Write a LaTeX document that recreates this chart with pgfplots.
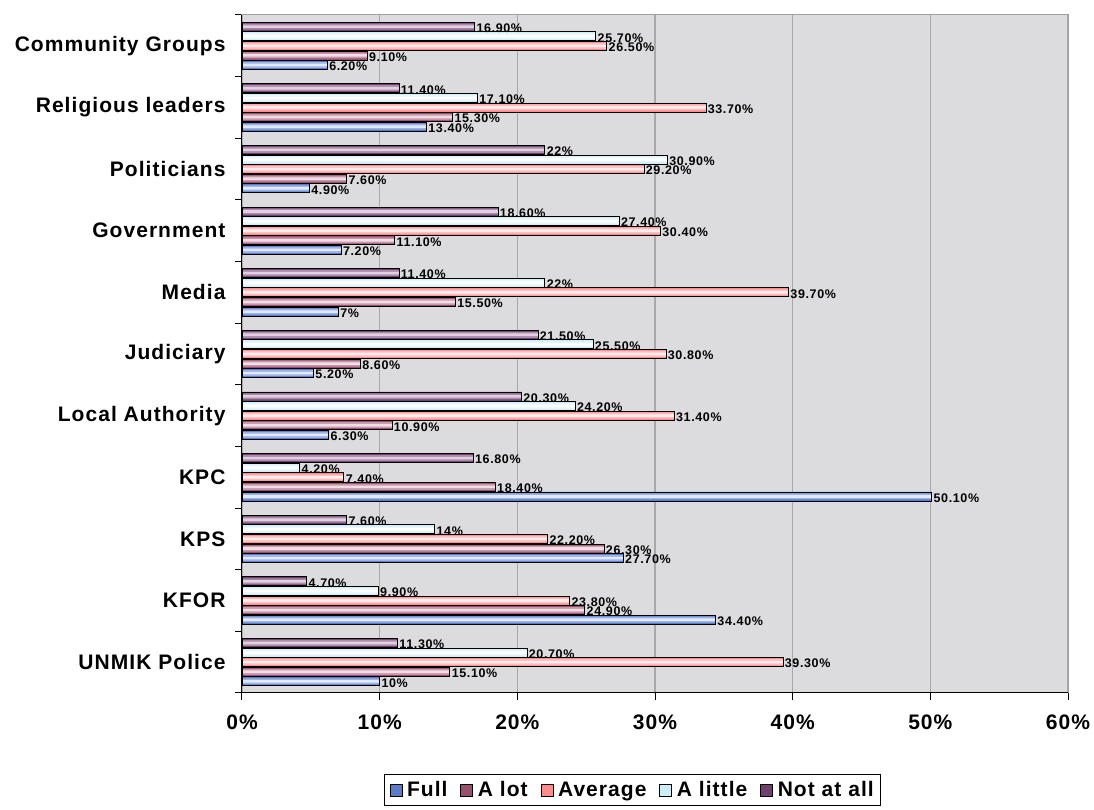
\documentclass[border=0pt]{standalone}
\usepackage{fontspec}
\setmainfont{Liberation Sans}[LetterSpace=5]
\usepackage{pgfplots}
\usepackage{pgfplotstable}
\pgfplotsset{compat=1.18}

\definecolor{bggray}{HTML}{DCDCDE}
\definecolor{gridgray}{HTML}{A8A8A8}
\definecolor{bordergray}{HTML}{A0A0A0}
% bar bands: edge / mid / centre
\definecolor{fullE}{HTML}{5A7BC8}\definecolor{fullM}{HTML}{9DB3E6}\definecolor{fullC}{HTML}{E2E9F8}
\definecolor{alotE}{HTML}{98506F}\definecolor{alotM}{HTML}{C996AC}\definecolor{alotC}{HTML}{F0DEE6}
\definecolor{avgE}{HTML}{FF8C8C}\definecolor{avgM}{HTML}{FFBDBD}\definecolor{avgC}{HTML}{FFEDED}
\definecolor{litE}{HTML}{CDEEF6}\definecolor{litM}{HTML}{E6F7FB}\definecolor{litC}{HTML}{FFFFFF}
\definecolor{notE}{HTML}{70406F}\definecolor{notM}{HTML}{AC8AAC}\definecolor{notC}{HTML}{E0D0E0}

% y: 0 = UNMIK Police ... 10 = Community Groups
\pgfplotstableread{
y full alot avg lit not fl al vl ll nl
0 10 15.1 39.3 20.7 11.3 10\% 15.10\% 39.30\% 20.70\% 11.30\%
1 34.4 24.9 23.8 9.9 4.7 34.40\% 24.90\% 23.80\% 9.90\% 4.70\%
2 27.7 26.3 22.2 14 7.6 27.70\% 26.30\% 22.20\% 14\% 7.60\%
3 50.1 18.4 7.4 4.2 16.8 50.10\% 18.40\% 7.40\% 4.20\% 16.80\%
4 6.3 10.9 31.4 24.2 20.3 6.30\% 10.90\% 31.40\% 24.20\% 20.30\%
5 5.2 8.6 30.8 25.5 21.5 5.20\% 8.60\% 30.80\% 25.50\% 21.50\%
6 7 15.5 39.7 22 11.4 7\% 15.50\% 39.70\% 22\% 11.40\%
7 7.2 11.1 30.4 27.4 18.6 7.20\% 11.10\% 30.40\% 27.40\% 18.60\%
8 4.9 7.6 29.2 30.9 22 4.90\% 7.60\% 29.20\% 30.90\% 22\%
9 13.4 15.3 33.7 17.1 11.4 13.40\% 15.30\% 33.70\% 17.10\% 11.40\%
10 6.2 9.1 26.5 25.7 16.9 6.20\% 9.10\% 26.50\% 25.70\% 16.90\%
}\data

% one series: column, label column, shift, edge, mid, centre colour
\newcommand{\series}[6]{%
  \addplot[bar shift=#3, fill=#4, draw=none] table[x=#1,y=y] {\data};
  \addplot[forget plot, bar shift=#3, bar width=6pt, fill=#5, draw=none] table[x=#1,y=y] {\data};
  \addplot[forget plot, bar shift=#3, bar width=2.6pt, fill=#6, draw=none] table[x=#1,y=y] {\data};
  \addplot[forget plot, bar shift=#3, fill=none, draw=black, line width=0.8pt,
    point meta=explicit symbolic, nodes near coords,
    every node near coord/.append style={yshift=#3}] table[x=#1,y=y,meta=#2] {\data};
}

\begin{document}
\begin{tikzpicture}[x=1pt,y=1pt]
\useasboundingbox (-242,-117) rectangle (852,693);
\begin{axis}[
    at={(0,0)}, anchor=south west,
    scale only axis, width=826pt, height=678pt,
    xbar, bar width=9pt,
    xmin=0, xmax=60, ymin=-0.5, ymax=10.5,
    xtick={0,10,...,60},
    xticklabels={0\%,10\%,20\%,30\%,40\%,50\%,60\%},
    ytick={-0.5,0.5,...,10.5}, yticklabels={},
    extra y ticks={0,1,...,10},
    extra y tick labels={UNMIK Police,KFOR,KPS,KPC,Local Authority,Judiciary,Media,Government,Politicians,Religious leaders,Community Groups},
    extra y tick style={major tick length=0pt},
    xtick pos=bottom, ytick pos=left,
    tick align=outside, major tick length=7pt,
    tick style={black, line width=1pt},
    xmajorgrids, grid style={draw=gridgray, line width=1.2pt},
    axis background/.style={fill=bggray},
    axis line style={draw=bordergray, line width=1pt},
    tick label style={font=\fontsize{21}{25}\selectfont\bfseries},
    yticklabel style={xshift=-13pt},
    xticklabel style={yshift=-11pt},
    every node near coord/.style={anchor=west, font=\fontsize{12.5}{13}\selectfont\bfseries, inner sep=1.5pt, yshift=-1.5pt, black},
    legend columns=5,
    legend style={at={(0.473,-0.143)}, anchor=center, draw=black, line width=1pt,
      font=\fontsize{21}{25}\selectfont\bfseries, inner xsep=5pt, inner ysep=5pt,
      /tikz/every even column/.append style={column sep=11pt}},
    legend image code/.code={\draw[#1, draw=black, line width=0.8pt] (0pt,-6pt) rectangle (12pt,6pt);
      \path (15pt,0pt);},
    after end axis/.code={\draw[black, line width=1pt] (rel axis cs:0,1) -- (rel axis cs:0,0) -- (rel axis cs:1,0);},
  ]

  \series{full}{fl}{-19.2pt}{fullE}{fullM}{fullC}
  \addlegendentry{Full}
  \series{alot}{al}{-9.6pt}{alotE}{alotM}{alotC}
  \addlegendentry{A lot}
  \series{avg}{vl}{0pt}{avgE}{avgM}{avgC}
  \addlegendentry{Average}
  \series{lit}{ll}{9.6pt}{litE}{litM}{litC}
  \addlegendentry{A little}
  \series{not}{nl}{19.2pt}{notE}{notM}{notC}
  \addlegendentry{Not at all}

\end{axis}
\end{tikzpicture}
\end{document}
